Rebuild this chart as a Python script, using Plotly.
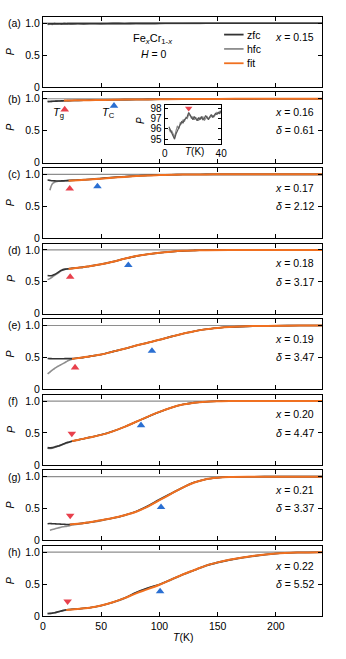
import plotly.graph_objects as go

W, H = 346, 659

# ---------------- data ----------------
T = [4, 6, 8, 10, 12, 14, 16, 18, 20, 22, 25, 30, 35, 40, 50, 60, 70, 80, 90, 100,
     110, 120, 130, 140, 150, 160, 180, 200, 220, 240]

zfc_a = [0.99, 0.992, 0.99, 0.993, 0.991, 0.992, 0.99, 0.993, 0.992, 0.994, 0.993, 0.995, 0.994, 0.996, 0.995,
         0.997, 0.996, 0.998, 0.997, 0.998, 0.999, 0.998, 0.999, 1.0, 0.999, 1.0, 1.0, 1.0, 1.0, 1.0]
hfc_a = [0.98, 0.985, 0.982, 0.986, 0.983, 0.987, 0.984, 0.986, 0.983, 0.987, 0.985, 0.988, 0.984, 0.987, 0.986,
         0.989, 0.988, 0.99, 0.991, 0.993, 0.995, 0.996, 0.997, 0.998, 0.998, 0.999, 1.0, 1.0, 1.0, 1.0]

zfc_b = [0.955, 0.958, 0.96, 0.962, 0.963, 0.965, 0.967, 0.968, 0.97, 0.971, 0.972, 0.974, 0.976, 0.978, 0.981,
         0.984, 0.986, 0.988, 0.99, 0.992, 0.993, 0.994, 0.995, 0.996, 0.997, 0.998, 0.999, 1.0, 1.0, 1.0]
hfc_b = [0.96, 0.957, 0.958, 0.961, 0.964, 0.966, 0.968, 0.97, 0.972, 0.97, 0.973, 0.975, 0.977, 0.979, 0.982,
         0.985, 0.987, 0.989, 0.991, 0.992, 0.994, 0.995, 0.996, 0.997, 0.998, 0.998, 0.999, 1.0, 1.0, 1.0]
fitT_b = [18, 25, 30, 40, 50, 60, 80, 100, 120, 150, 180, 210, 240]
fit_b = [0.972, 0.974, 0.976, 0.978, 0.981, 0.984, 0.988, 0.992, 0.995, 0.998, 0.999, 1.0, 1.0]

zfc_c = [0.91, 0.905, 0.9, 0.897, 0.896, 0.896, 0.897, 0.898, 0.9, 0.902, 0.905, 0.91, 0.915, 0.92, 0.935,
         0.95, 0.963, 0.975, 0.984, 0.99, 0.994, 0.997, 0.998, 0.999, 1.0, 1.0, 1.0, 1.0, 1.0, 1.0]
hfc_c = [None, 0.75, 0.85, 0.875, 0.888, 0.893, 0.897, 0.9, 0.902, 0.905, 0.908, 0.913, 0.918, 0.924, 0.938,
         0.952, 0.965, 0.976, 0.985, 0.99, 0.994, 0.997, 0.998, 0.999, 1.0, 1.0, 1.0, 1.0, 1.0, 1.0]
fitT_c = [22, 30, 40, 50, 60, 70, 80, 90, 100, 110, 120, 140, 160, 200, 240]
fit_c = [0.9, 0.908, 0.918, 0.932, 0.947, 0.96, 0.972, 0.982, 0.988, 0.993, 0.996, 0.999, 1.0, 1.0, 1.0]

zfc_d = [0.6, 0.595, 0.6, 0.615, 0.635, 0.66, 0.68, 0.695, 0.7, 0.705, 0.71, 0.72, 0.73, 0.745, 0.775,
         0.815, 0.862, 0.903, 0.932, 0.955, 0.972, 0.985, 0.992, 0.996, 0.998, 0.999, 1.0, 1.0, 1.0, 1.0]
hfc_d = [0.535, 0.55, 0.575, 0.6, 0.625, 0.65, 0.675, 0.69, 0.698, 0.703, 0.71, 0.72, 0.73, 0.745, 0.776,
         0.816, 0.861, 0.902, 0.931, 0.954, 0.971, 0.984, 0.991, 0.996, 0.998, 0.999, 1.0, 1.0, 1.0, 1.0]
fitT_d = [22, 25, 30, 35, 40, 50, 60, 70, 80, 90, 100, 110, 120, 130, 140, 160, 200, 240]
fit_d = [0.705, 0.71, 0.72, 0.73, 0.745, 0.775, 0.815, 0.862, 0.903, 0.932, 0.955, 0.972, 0.985, 0.992, 0.996,
         0.999, 1.0, 1.0]

zfc_e = [0.482, 0.48, 0.479, 0.478, 0.478, 0.478, 0.478, 0.479, 0.48, 0.48, 0.48, 0.49, 0.5, 0.515, 0.545,
         0.59, 0.635, 0.685, 0.73, 0.775, 0.825, 0.87, 0.91, 0.94, 0.96, 0.975, 0.99, 0.995, 1.0, 1.0]
hfc_e = [0.24, 0.27, 0.3, 0.325, 0.35, 0.37, 0.39, 0.41, 0.43, 0.45, 0.47, 0.488, 0.5, 0.515, 0.546,
         0.59, 0.636, 0.685, 0.731, 0.776, 0.825, 0.871, 0.91, 0.94, 0.96, 0.975, 0.99, 0.995, 1.0, 1.0]
fitT_e = [25, 30, 35, 40, 50, 60, 70, 80, 90, 100, 110, 120, 130, 140, 150, 160, 180, 200, 220, 240]
fit_e = [0.475, 0.488, 0.5, 0.515, 0.545, 0.59, 0.635, 0.685, 0.73, 0.775, 0.825, 0.87, 0.91, 0.94, 0.96,
         0.975, 0.99, 0.995, 1.0, 1.0]

zfc_f = [0.27, 0.265, 0.27, 0.28, 0.29, 0.3, 0.315, 0.33, 0.345, 0.355, 0.37, 0.39, 0.41, 0.43, 0.47,
         0.525, 0.595, 0.675, 0.755, 0.83, 0.895, 0.945, 0.975, 0.99, 0.997, 1.0, 1.0, 1.0, 1.0, 1.0]
hfc_f = [0.26, 0.255, 0.26, 0.27, 0.285, 0.295, 0.31, 0.325, 0.34, 0.352, 0.368, 0.39, 0.41, 0.43, 0.47,
         0.525, 0.595, 0.675, 0.755, 0.83, 0.895, 0.945, 0.975, 0.99, 0.997, 1.0, 1.0, 1.0, 1.0, 1.0]
fitT_f = [25, 30, 35, 40, 50, 60, 70, 80, 90, 100, 110, 120, 130, 140, 150, 160, 180, 200, 220, 240]
fit_f = [0.372, 0.39, 0.41, 0.43, 0.47, 0.525, 0.595, 0.675, 0.755, 0.83, 0.895, 0.945, 0.975, 0.99, 0.997,
         1.0, 1.0, 1.0, 1.0, 1.0]

zfc_g = [0.262, 0.265, 0.262, 0.26, 0.258, 0.256, 0.254, 0.252, 0.25, 0.25, 0.252, 0.26, 0.27, 0.285, 0.315,
         0.35, 0.395, 0.455, 0.54, 0.64, 0.735, 0.83, 0.91, 0.96, 0.983, 0.993, 0.998, 1.0, 1.0, 1.0]
hfc_g = [None, 0.16, 0.17, 0.18, 0.19, 0.2, 0.21, 0.215, 0.22, 0.228, 0.24, 0.255, 0.268, 0.28, 0.31,
         0.348, 0.392, 0.45, 0.532, 0.632, 0.73, 0.826, 0.907, 0.958, 0.983, 0.993, 0.998, 1.0, 1.0, 1.0]
fitT_g = [23, 25, 30, 35, 40, 50, 60, 70, 80, 90, 100, 110, 120, 130, 140, 150, 160, 180, 200, 240]
fit_g = [0.25, 0.252, 0.26, 0.27, 0.285, 0.315, 0.35, 0.395, 0.45, 0.53, 0.63, 0.73, 0.828, 0.908, 0.96,
         0.983, 0.993, 0.998, 1.0, 1.0]

zfc_h = [0.04, 0.04, 0.045, 0.05, 0.06, 0.07, 0.08, 0.09, 0.095, 0.1, 0.105, 0.11, 0.12, 0.13, 0.165,
         0.215, 0.28, 0.37, 0.44, 0.495, 0.57, 0.65, 0.72, 0.79, 0.84, 0.88, 0.94, 0.98, 0.995, 1.0]
hfc_h = [0.035, 0.038, 0.043, 0.05, 0.058, 0.068, 0.078, 0.087, 0.093, 0.098, 0.103, 0.108, 0.118, 0.128, 0.16,
         0.21, 0.275, 0.365, 0.435, 0.49, 0.565, 0.645, 0.715, 0.785, 0.835, 0.875, 0.935, 0.978, 0.995, 1.0]
fitT_h = [20, 25, 30, 35, 40, 50, 60, 70, 80, 90, 100, 110, 120, 130, 140, 150, 160, 180, 200, 220, 240]
fit_h = [0.095, 0.103, 0.11, 0.12, 0.13, 0.165, 0.215, 0.28, 0.355, 0.42, 0.49, 0.57, 0.65, 0.72, 0.79,
         0.84, 0.88, 0.94, 0.98, 0.995, 1.0]

labels = ["(a)", "(b)", "(c)", "(d)", "(e)", "(f)", "(g)", "(h)"]
x_vals = ["0.15", "0.16", "0.17", "0.18", "0.19", "0.20", "0.21", "0.22"]
deltas = [None, "0.61", "2.12", "3.17", "3.47", "4.47", "3.37", "5.52"]

TG_T = [None, 18.7, 23.0, 23.4, 27.6, 24.8, 23.4, 21.2]
TG_P = [None, 0.83, 0.775, 0.577, 0.34, 0.49, 0.39, 0.23]
TG_up = [None, True, True, True, True, False, False, False]
TC_T = [None, 61.0, 46.8, 73.3, 93.6, 84.2, 101.4, 100.6]
TC_P = [None, 0.89, 0.81, 0.76, 0.60, 0.62, 0.52, 0.385]

# inset of panel (b)
T_in = list(range(3, 41))
zfc_in = [96.2, 95.9, 95.6, 95.3, 95.0, 95.5, 95.9, 96.1, 96.4, 96.7, 96.6, 96.9, 97.0, 97.2, 97.6, 97.4, 97.1,
          96.9, 97.2, 97.0, 96.8, 97.1, 96.9, 97.2, 96.9, 97.0, 97.3, 97.1, 96.9, 97.2, 97.4, 97.1, 97.3, 97.5,
          97.4, 97.6, 97.5, 97.8]
hfc_in = [96.0, 95.7, 95.8, 95.4, 95.2, 95.8, 96.3, 96.0, 96.6, 96.5, 96.9, 96.7, 97.1, 97.0, 97.4, 97.3, 97.0,
          97.2, 96.9, 97.1, 97.0, 96.8, 97.1, 97.0, 97.2, 96.8, 97.0, 97.2, 97.0, 97.1, 97.2, 97.3, 97.2, 97.4,
          97.6, 97.5, 97.7, 97.6]
inset_Tg = [17]
inset_Tg_P = [98.0]

zfcs = [zfc_a, zfc_b, zfc_c, zfc_d, zfc_e, zfc_f, zfc_g, zfc_h]
hfcs = [hfc_a, hfc_b, hfc_c, hfc_d, hfc_e, hfc_f, hfc_g, hfc_h]
fitTs = [None, fitT_b, fitT_c, fitT_d, fitT_e, fitT_f, fitT_g, fitT_h]
fits = [None, fit_b, fit_c, fit_d, fit_e, fit_f, fit_g, fit_h]

# ---------------- style ----------------
FONT = "Liberation Sans, Arial, sans-serif"
C_ZFC = "#333333"
C_HFC = "#8e8e8e"
C_FIT = "#f07020"
C_RED = "#e8404c"
C_BLUE = "#2a6fd2"
C_REF = "#8e8e8e"

L, R = 41, 328
TOP0, PH, STEP = 15, 71, 76.5


def px_x(p):
    return p / W


def px_y(p):
    return 1 - p / H


fig = go.Figure()
annotations = []
shapes = []
layout = {}

for i in range(8):
    k = "" if i == 0 else str(i + 1)
    xa, ya = "x" + k, "y" + k
    top = TOP0 + STEP * i
    bot = top + PH
    last = i == 7
    layout["xaxis" + k] = dict(
        domain=[px_x(L), px_x(R)], anchor=ya, range=[0, 240],
        tickvals=[0, 50, 100, 150, 200], showticklabels=last,
        ticks="inside", ticklen=4, tickwidth=1, tickcolor="black",
        showline=True, linecolor="black", linewidth=1, mirror="ticks",
        showgrid=False, zeroline=False, tickfont=dict(size=10.5, color="black", family=FONT),
    )
    layout["yaxis" + k] = dict(
        domain=[px_y(bot), px_y(top)], anchor=xa, range=[0, 1.1],
        tickvals=[0, 0.5, 1.0], ticktext=["0", "0.5", "1.0"],
        ticks="inside", ticklen=4, tickwidth=1, tickcolor="black",
        showline=True, linecolor="black", linewidth=1, mirror="ticks",
        showgrid=False, zeroline=False, tickfont=dict(size=10.5, color="black", family=FONT),
    )
    # reference line at P = 1
    shapes.append(dict(type="line", xref=xa, yref=ya, x0=0, x1=240, y0=1, y1=1,
                       line=dict(color=C_REF, width=1.2), layer="below"))

    fig.add_trace(go.Scatter(x=T, y=hfcs[i], mode="lines", xaxis=xa, yaxis=ya,
                             line=dict(color=C_HFC, width=1.6, shape="spline"), showlegend=False))
    fig.add_trace(go.Scatter(x=T, y=zfcs[i], mode="lines", xaxis=xa, yaxis=ya,
                             line=dict(color=C_ZFC, width=1.6, shape="spline"), showlegend=False))
    if fits[i] is not None:
        fig.add_trace(go.Scatter(x=fitTs[i], y=fits[i], mode="lines", xaxis=xa, yaxis=ya,
                                 line=dict(color=C_FIT, width=2, shape="spline"), showlegend=False))
    if TG_T[i] is not None:
        fig.add_trace(go.Scatter(x=[TG_T[i]], y=[TG_P[i]], mode="markers", xaxis=xa, yaxis=ya,
                                 marker=dict(symbol="triangle-up" if TG_up[i] else "triangle-down",
                                             size=7.5, color=C_RED), showlegend=False))
        fig.add_trace(go.Scatter(x=[TC_T[i]], y=[TC_P[i]], mode="markers", xaxis=xa, yaxis=ya,
                                 marker=dict(symbol="triangle-up", size=7.5, color=C_BLUE), showlegend=False))

    # panel label, y title, x / delta text
    annotations.append(dict(text=labels[i], xref="paper", yref=ya, x=px_x(3), y=1.0,
                            xanchor="left", yanchor="middle", showarrow=False,
                            font=dict(size=10.5, family=FONT, color="black")))
    annotations.append(dict(text="<i>P</i>", xref="paper", yref="paper", x=px_x(7.5),
                            y=px_y((top + bot) / 2), textangle=-90, showarrow=False,
                            xanchor="center", yanchor="middle",
                            font=dict(size=10.5, family=FONT, color="black")))
    annotations.append(dict(text="<i>x</i> = " + x_vals[i], xref="paper", yref="paper",
                            x=px_x(321), y=px_y(top + 20), xanchor="right", yanchor="middle",
                            showarrow=False, font=dict(size=10.5, family=FONT, color="black")))
    if deltas[i] is not None:
        annotations.append(dict(text="<i>δ</i> = " + deltas[i], xref="paper", yref="paper",
                                x=px_x(321), y=px_y(top + 38.5), xanchor="right", yanchor="middle",
                                showarrow=False, font=dict(size=10.5, family=FONT, color="black")))

# x title
annotations.append(dict(text="<i>T</i>(K)", xref="paper", yref="paper", x=px_x((L + R) / 2),
                        y=px_y(643), xanchor="center", yanchor="middle", showarrow=False,
                        font=dict(size=10.5, family=FONT, color="black")))

# panel (a) texts
annotations.append(dict(text="Fe<sub><i>x</i></sub>Cr<sub>1-<i>x</i></sub>", xref="paper", yref="paper",
                        x=px_x(154), y=px_y(37), showarrow=False, xanchor="center", yanchor="middle",
                        font=dict(size=11, family=FONT, color="black")))
annotations.append(dict(text="<i>H</i> = 0", xref="paper", yref="paper",
                        x=px_x(155), y=px_y(53), showarrow=False, xanchor="center", yanchor="middle",
                        font=dict(size=10.5, family=FONT, color="black")))
# legend (manual)
for name, col, yy in [("zfc", C_ZFC, 33), ("hfc", C_HFC, 47.5), ("fit", C_FIT, 62)]:
    shapes.append(dict(type="line", xref="paper", yref="paper", x0=px_x(227), x1=px_x(247),
                       y0=px_y(yy), y1=px_y(yy), line=dict(color=col, width=1.8)))
    annotations.append(dict(text=name, xref="paper", yref="paper", x=px_x(248), y=px_y(yy),
                            xanchor="left", yanchor="middle", showarrow=False,
                            font=dict(size=10.5, family=FONT, color="black")))

# T_g / T_C labels in (b)
annotations.append(dict(text="<i>T</i><sub>g</sub>", xref="paper", yref="paper", x=px_x(57), y=px_y(112),
                        showarrow=False, xanchor="center", yanchor="middle",
                        font=dict(size=11, family=FONT, color="black")))
annotations.append(dict(text="<i>T</i><sub>C</sub>", xref="paper", yref="paper", x=px_x(108), y=px_y(112),
                        showarrow=False, xanchor="center", yanchor="middle",
                        font=dict(size=11, family=FONT, color="black")))

# inset
layout["xaxis9"] = dict(domain=[px_x(166), px_x(224)], anchor="y9", range=[0, 40], tickvals=[0, 40],
                        ticks="inside", ticklen=3, tickcolor="black", showline=True, linecolor="black",
                        linewidth=1, mirror="ticks", showgrid=False, zeroline=False,
                        tickfont=dict(size=10, family=FONT, color="black"))
layout["yaxis9"] = dict(domain=[px_y(143.5), px_y(104)], anchor="x9", range=[94.55, 98.35],
                        tickvals=[95, 96, 97, 98], ticks="inside", ticklen=3, tickcolor="black",
                        showline=True, linecolor="black", linewidth=1, mirror="ticks", showgrid=False,
                        zeroline=False, tickfont=dict(size=10, family=FONT, color="black"))
fig.add_trace(go.Scatter(x=T_in, y=hfc_in, mode="lines", xaxis="x9", yaxis="y9",
                         line=dict(color=C_HFC, width=1.2), showlegend=False))
fig.add_trace(go.Scatter(x=T_in, y=zfc_in, mode="lines", xaxis="x9", yaxis="y9",
                         line=dict(color="#555555", width=1.2), showlegend=False))
fig.add_trace(go.Scatter(x=inset_Tg, y=inset_Tg_P, mode="markers", xaxis="x9", yaxis="y9",
                         marker=dict(symbol="triangle-down", size=6.5, color=C_RED), showlegend=False))
annotations.append(dict(text="<i>T</i>(K)", xref="paper", yref="paper", x=px_x(197), y=px_y(151.5),
                        xanchor="center", yanchor="middle", showarrow=False,
                        font=dict(size=10, family=FONT, color="black")))
annotations.append(dict(text="<i>P</i>", xref="paper", yref="paper", x=px_x(141), y=px_y(120),
                        xanchor="center", yanchor="middle", textangle=-90, showarrow=False,
                        font=dict(size=10, family=FONT, color="black")))

fig.update_layout(
    width=W, height=H, margin=dict(l=0, r=0, t=0, b=0),
    paper_bgcolor="white", plot_bgcolor="white",
    font=dict(family=FONT, size=10.5, color="black"),
    showlegend=False, annotations=annotations, shapes=shapes, **layout,
)

fig.write_html("out.html", config={"displayModeBar": False},
               post_script="document.body.style.margin='0';document.body.style.padding='0';")
